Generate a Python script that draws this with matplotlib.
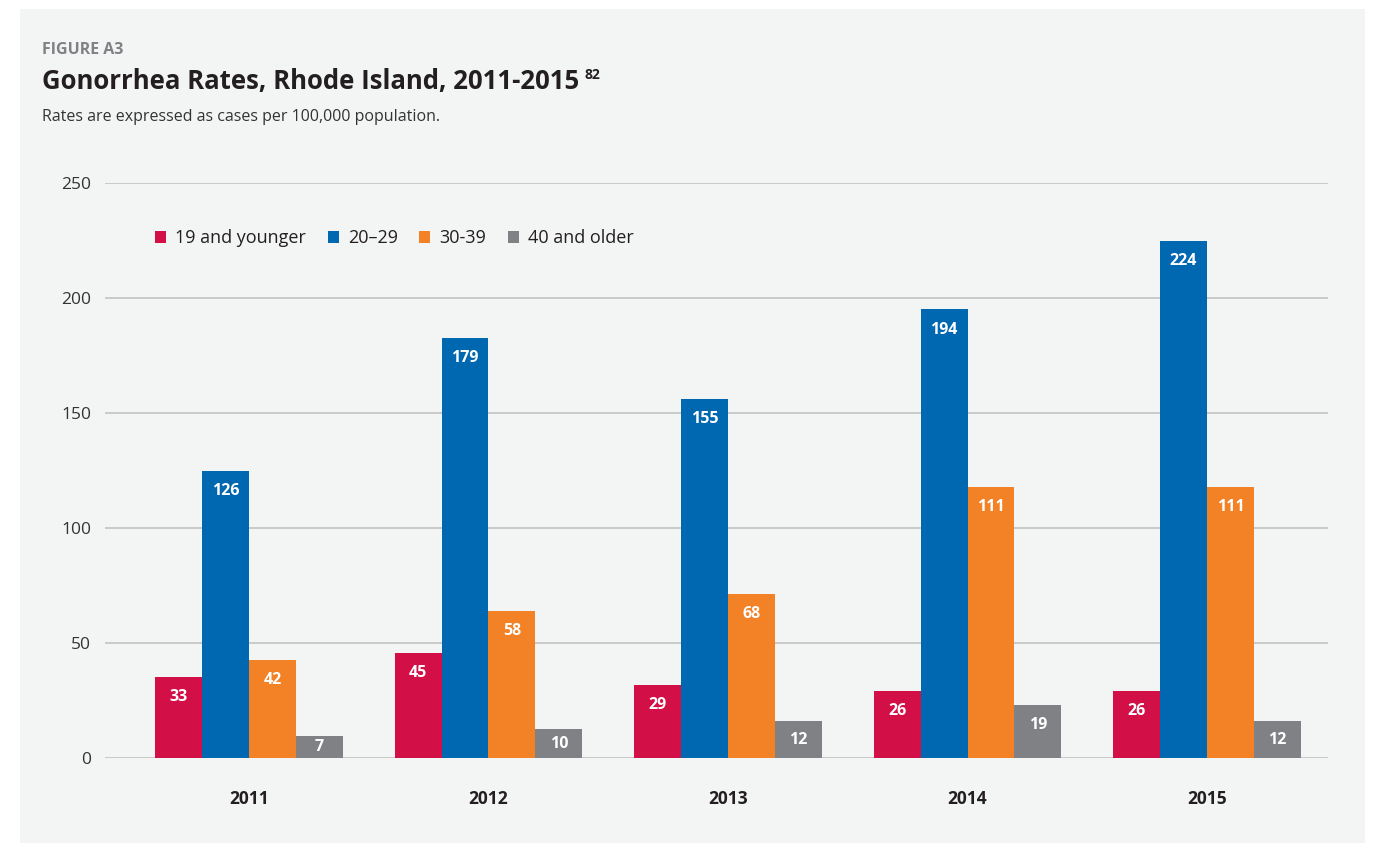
import numpy as np
import matplotlib
matplotlib.use('Agg')
import matplotlib.pyplot as plt
from matplotlib.patches import Rectangle

plt.rcParams['font.family'] = ['Open Sans', 'DejaVu Sans']

# data
years = ['2011', '2012', '2013', '2014', '2015']
groups = ['19 and younger', '20\u201329', '30-39', '40 and older']
# printed values
rates_19 = [33, 45, 29, 26, 26]
rates_20 = [126, 179, 155, 194, 224]
rates_30 = [42, 58, 68, 111, 111]
rates_40 = [7, 10, 12, 19, 12]
# bar heights as drawn in the original
bars_19 = [35.2, 45.7, 31.7, 29.0, 29.0]
bars_20 = [124.8, 182.6, 156.0, 195.0, 224.8]
bars_30 = [42.6, 63.9, 71.3, 117.8, 117.8]
bars_40 = [9.6, 12.6, 16.0, 23.0, 16.0]

colors = ['#d20f46', '#0067b1', '#f38126', '#808184']
bg = '#f3f4f4'

fig = plt.figure(figsize=(13.75, 8.43), dpi=100)
fig.patches.append(Rectangle((20/1375, 0), 1345/1375, 834/843, transform=fig.transFigure,
                             facecolor=bg, edgecolor='none', zorder=-10))

ax = fig.add_axes([105/1375, 85/843, 1223/1375, 575/843])
ax.set_facecolor('none')

x = np.arange(len(years))
w = 0.196
all_bars = [bars_19, bars_20, bars_30, bars_40]
all_rates = [rates_19, rates_20, rates_30, rates_40]
px_per_unit = 575/250
for k in range(4):
    xs = x + (k - 1.5)*w
    ax.bar(xs, all_bars[k], width=w, color=colors[k], label=groups[k], zorder=3)
    for xi, h, r in zip(xs, all_bars[k], all_rates[k]):
        yl = max(h - 20/px_per_unit, h/2)
        ax.text(xi, yl, str(r), ha='center', va='center', color='white',
                fontsize=11.5, fontweight='bold', zorder=4)

ax.set_ylim(0, 250)
ax.set_xlim(-0.601, 4.505)
ax.set_yticks(range(0, 251, 50))
ax.grid(axis='y', color='#c2c2c2', linewidth=1.2, zorder=0)
ax.set_axisbelow(True)
for s in ax.spines.values():
    s.set_visible(False)
ax.tick_params(axis='both', length=0, labelsize=12.5, colors='#333333')
ax.tick_params(axis='y', pad=10)
ax.set_xticks(x)
ax.set_xticklabels(years, fontweight='bold', fontsize=12.5, color='#231f20')
ax.tick_params(axis='x', pad=23)

leg = ax.legend(loc='upper left', bbox_to_anchor=(0.028, 0.948), ncol=4, frameon=False,
                fontsize=13, handlelength=0.6, handleheight=0.6, handletextpad=0.5,
                columnspacing=1.2, labelcolor='#231f20')

fig.text(42/1375, 1 - 50/843, 'FIGURE A3', fontsize=11.5, fontweight='bold',
         color='#808184', va='center')
t = fig.text(42/1375, 1 - 81/843, 'Gonorrhea Rates, Rhode Island, 2011-2015', fontsize=18.5,
             fontweight='bold', color='#231f20', va='center')
fig.canvas.draw()
bb = t.get_window_extent()
fig.text(bb.x1/1375 + 5/1375, 1 - 75/843, '82', fontsize=10, fontweight='bold',
         color='#231f20', va='center')
fig.text(42/1375, 1 - 117/843, 'Rates are expressed as cases per 100,000 population.',
         fontsize=11.5, color='#333333', va='center')

fig.savefig('out.png', dpi=100, facecolor='white')
